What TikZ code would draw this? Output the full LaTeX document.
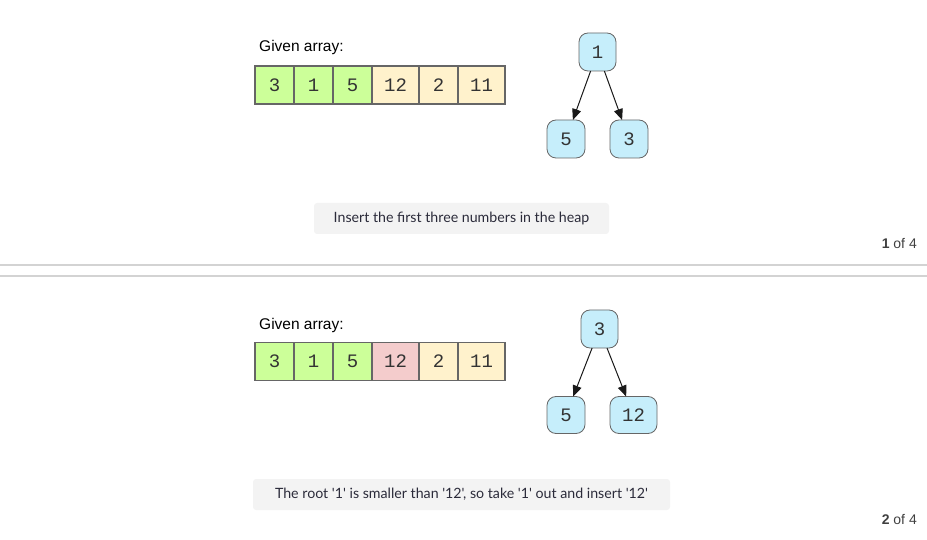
\documentclass[tikz,border=0pt]{standalone}
\usepackage{fontspec}
\setmainfont{Liberation Sans}
\newfontfamily\monof{Liberation Mono}
\newfontfamily\capf{Lato}
\usetikzlibrary{arrows.meta}
\definecolor{cgreen}{HTML}{CCFF99}
\definecolor{ccream}{HTML}{FFF2CC}
\definecolor{cpink}{HTML}{F4CCCC}
\definecolor{cblue}{HTML}{C6EEFB}
\definecolor{cborder}{HTML}{666666}
\definecolor{ccap}{HTML}{F3F3F3}
\definecolor{csep}{HTML}{D3D3D3}
\definecolor{ctext}{HTML}{2B2B3A}
\begin{document}
\begin{tikzpicture}[x=1pt,y=-1pt,
  cell/.style={draw=cborder,line width=1.3pt,minimum height=38pt,inner sep=0pt,outer sep=0pt,
    font=\monof\fontsize{19}{19}\selectfont,text=black!80},
  tnode/.style={draw=cborder,line width=0.8pt,fill=cblue,rounded corners=9pt,minimum height=38pt,
    inner sep=0pt,outer sep=0pt,font=\monof\fontsize{19}{19}\selectfont,text=black!80},
  edgeline/.style={draw=black!90,line width=1pt,-{Triangle[length=11pt,width=9pt]}},
  capbox/.style={fill=ccap,rounded corners=3pt,inner sep=0pt,text=ctext,font=\capf\fontsize{14.2}{14.2}\selectfont},
  lbl/.style={anchor=west,inner sep=0pt,font=\fontsize{15.5}{15.5}\selectfont},
  pg/.style={anchor=east,inner sep=0pt,font=\fontsize{14}{14}\selectfont,text=black!75}
]
\useasboundingbox (0,0) rectangle (927,540);
% separators
\draw[csep,line width=1.2pt] (0,265) -- (927,265);
\draw[csep,line width=1.2pt] (0,276) -- (927,276);

% ---------- Panel 1 ----------
\node[lbl] (g1) at (259,47) {Given array:};
\node[cell,fill=cgreen,minimum width=39pt] (a1) at (274.5,85) {3};
\node[cell,fill=cgreen,minimum width=39pt] (a2) at (313.5,85) {1};
\node[cell,fill=cgreen,minimum width=39pt] (a3) at (352.5,85) {5};
\node[cell,fill=ccream,minimum width=47pt] (a4) at (395.5,85) {12};
\node[cell,fill=ccream,minimum width=39pt] (a5) at (438.5,85) {2};
\node[cell,fill=ccream,minimum width=47pt] (a6) at (481.5,85) {11};

\node[tnode,minimum width=37pt] (r1) at (597.5,52) {1};
\node[tnode,minimum width=38pt] (l1) at (566,139) {5};
\node[tnode,minimum width=38pt] (q1) at (629,139) {3};
\draw[edgeline] (r1) -- (l1);
\draw[edgeline] (r1) -- (q1);

\node[capbox,minimum width=295pt,minimum height=31pt] (c1) at (461.5,218.5) {Insert the first three numbers in the heap};
\node[pg] (p1) at (917,244) {\textbf{1} of 4};

% ---------- Panel 2 ----------
\node[lbl] (g2) at (259,325) {Given array:};
\node[cell,fill=cgreen,minimum width=39pt] (b1) at (274.5,361.5) {3};
\node[cell,fill=cgreen,minimum width=39pt] (b2) at (313.5,361.5) {1};
\node[cell,fill=cgreen,minimum width=39pt] (b3) at (352.5,361.5) {5};
\node[cell,fill=cpink,minimum width=47pt] (b4) at (395.5,361.5) {12};
\node[cell,fill=ccream,minimum width=39pt] (b5) at (438.5,361.5) {2};
\node[cell,fill=ccream,minimum width=47pt] (b6) at (481.5,361.5) {11};

\node[tnode,minimum width=37pt] (r2) at (599.5,329) {3};
\node[tnode,minimum width=38pt,minimum height=37pt] (l2) at (566,415) {5};
\node[tnode,minimum width=47pt,minimum height=37pt] (q2) at (633.5,415) {12};
\draw[edgeline] (r2) -- (l2);
\draw[edgeline] (r2) -- (q2);

\node[capbox,minimum width=417pt,minimum height=31pt] (c2) at (461.5,494.5) {The root '1' is smaller than '12', so take '1' out and insert '12'};
\node[pg] (p2) at (917,520) {\textbf{2} of 4};
\end{tikzpicture}
\end{document}
